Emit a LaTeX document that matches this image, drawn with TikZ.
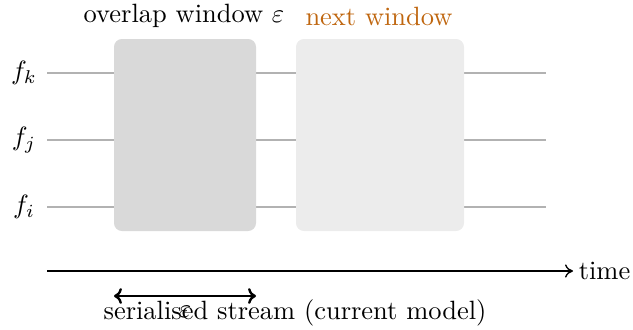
\documentclass[tikz,border=0pt]{standalone}
\usetikzlibrary{arrows.meta}
\definecolor{nextorange}{rgb}{0.75,0.40,0.06}
\begin{document}
\begin{tikzpicture}[x=0.378pt,y=-0.378pt,
  flow/.style={draw=gray!60, line width=0.45pt},
  winA/.style={fill=gray!30, rounded corners=3pt},
  winB/.style={fill=gray!15, rounded corners=3pt},
  flabel/.style={anchor=center, inner sep=0pt},
  axis/.style={line width=0.5pt, -{To[length=3pt,width=5pt]}},
  span/.style={line width=0.9pt, {To[length=3pt,width=6pt]}-{To[length=3pt,width=6pt]}}]
\useasboundingbox (0,0) rectangle (633,329);
% flow lines
\coordinate (kL) at (47,73);  \coordinate (kR) at (546,73);
\coordinate (jL) at (47,140); \coordinate (jR) at (546,140);
\coordinate (iL) at (47,207); \coordinate (iR) at (546,207);
\draw[flow] (kL) -- (kR);
\draw[flow] (jL) -- (jR);
\draw[flow] (iL) -- (iR);
\node[flabel] (fk) at (24,73) {$f_k$};
\node[flabel] (fj) at (24,140) {$f_j$};
\node[flabel] (fi) at (24,207) {$f_i$};
% windows
\path[winA] (114,39) rectangle (256,231);
\path[winB] (296,39) rectangle (464,231);
\node (ovl) at (184,16) {overlap window $\varepsilon$};
\node[text=nextorange] (nxt) at (379,16) {next window};
% time axis
\coordinate (t0) at (47,271);
\coordinate (t1) at (573,271);
\draw[axis] (t0) -- (t1);
\node[anchor=west, inner sep=2pt] (time) at (t1) {time};
% epsilon span
\coordinate (s0) at (114,296);
\coordinate (s1) at (256,296);
\draw[span] (s0) -- (s1);
\node (eps) at (185,312) {$\varepsilon$};
\node (ser) at (295,313) {serialised stream (current model)};
\end{tikzpicture}
\end{document}
